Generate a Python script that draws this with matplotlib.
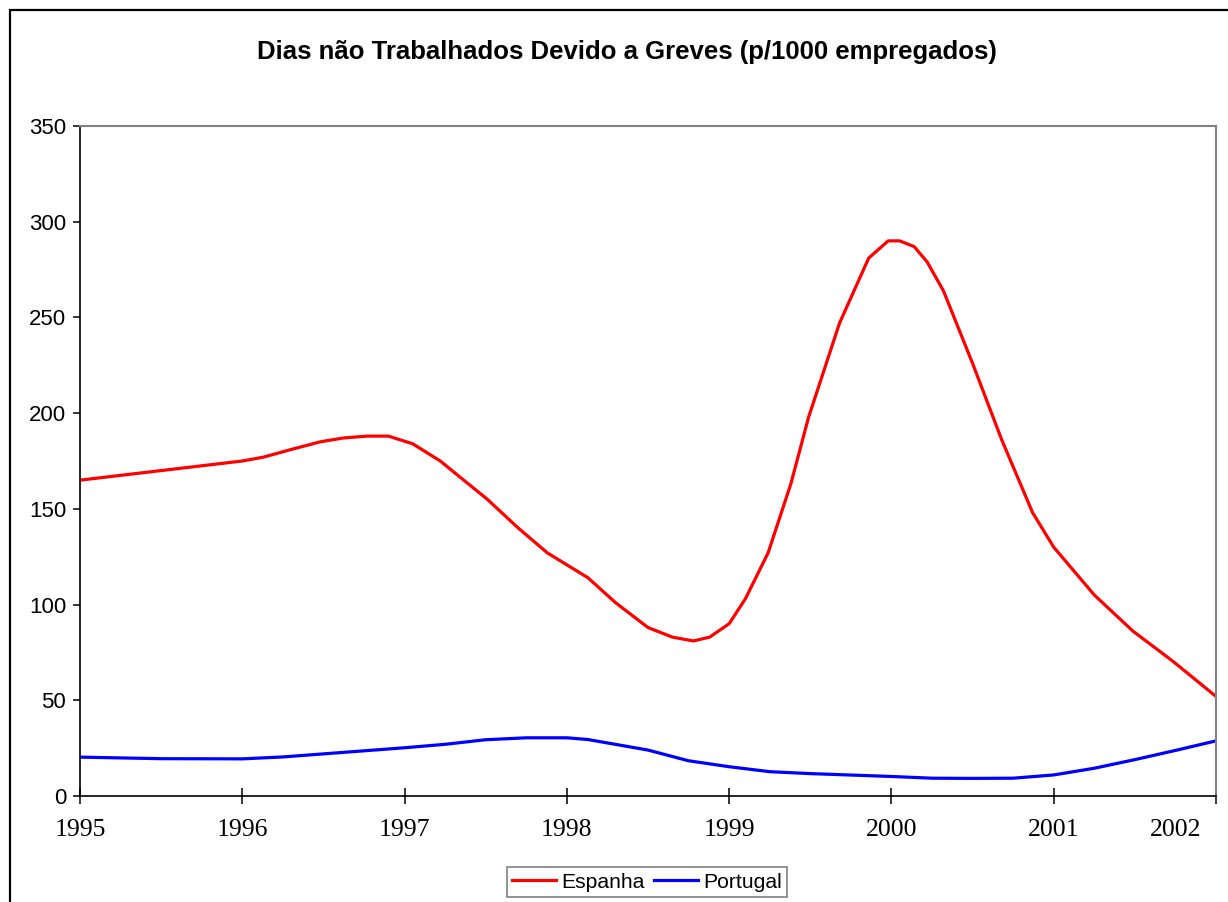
import matplotlib
matplotlib.use("Agg")
import matplotlib.pyplot as plt
import matplotlib.patches as mpatches
import matplotlib.transforms as mtransforms
import numpy as np

# values (fractional years)
spain_x = [1995.0, 1996.0, 1996.13, 1996.3, 1996.48, 1996.62, 1996.77, 1996.9,
           1997.05, 1997.22, 1997.35, 1997.51, 1997.7, 1997.88, 1998.13, 1998.3,
           1998.5, 1998.65, 1998.78, 1998.88, 1999.0, 1999.1, 1999.24, 1999.38,
           1999.49, 1999.68, 1999.86, 1999.98, 2000.05, 2000.14, 2000.22, 2000.32,
           2000.5, 2000.68, 2000.76, 2000.87, 2001.0, 2001.25, 2001.49, 2001.6,
           2001.74, 2002.0]
spain_y = [165, 175, 177, 181, 185, 187, 188, 188,
           184, 175, 166, 155, 140, 127, 114, 101,
           88, 83, 81, 83, 90, 103, 127, 163,
           198, 247, 281, 290, 290, 287, 279, 264,
           226, 186, 170, 148, 130, 105, 86, 79,
           70, 52]

portugal_x = [1995.0, 1995.5, 1996.0, 1996.25, 1996.5, 1997.0, 1997.25, 1997.5,
              1997.75, 1998.0, 1998.13, 1998.5, 1998.75, 1999.0, 1999.25, 1999.5,
              2000.0, 2000.25, 2000.5, 2000.75, 2001.0, 2001.25, 2001.5, 2001.75,
              2002.0]
portugal_y = [20.3, 19.5, 19.4, 20.4, 22.0, 25.2, 27.0, 29.4,
              30.4, 30.4, 29.5, 24.0, 18.4, 15.3, 12.7, 11.7,
              10.2, 9.3, 9.2, 9.3, 11.0, 14.5, 19.0, 23.8,
              28.8]

years = [1995, 1996, 1997, 1998, 1999, 2000, 2001, 2002]
y_ticks = [0, 50, 100, 150, 200, 250, 300, 350]

W, H = 1228, 902
fig = plt.figure(figsize=(W / 100, H / 100), dpi=100)

# outer chart frame (right/bottom edges run off the image)
fig.patches.append(mpatches.Rectangle((10 / W, -0.05), 1.1, 1 - 10 / H + 0.05,
                                      transform=fig.transFigure, fill=False,
                                      edgecolor="black", linewidth=1.6))

ax = fig.add_axes([80 / W, 1 - 796 / H, (1216 - 80) / W, (796 - 126) / H])

ax.plot(spain_x, spain_y, color="#FF0000", linewidth=2.3, label="Espanha")
ax.plot(portugal_x, portugal_y, color="#0000FF", linewidth=2.3, label="Portugal")

ax.set_xlim(1995, 2002)
ax.set_ylim(0, 350)
ax.set_xticks(years)
ax.set_xticklabels([str(y) for y in years], family="Liberation Serif", fontsize=18.5)
ax.set_yticks(y_ticks)
ax.set_yticklabels([str(v) for v in y_ticks], family="Liberation Sans", fontsize=16)

ax.tick_params(axis="x", direction="inout", length=11, width=1.1, pad=11)
ax.tick_params(axis="y", direction="out", length=5, width=1.1, pad=5)

for side in ["left", "bottom"]:
    ax.spines[side].set_color("black")
    ax.spines[side].set_linewidth(1.2)
for side in ["top", "right"]:
    ax.spines[side].set_color("#808080")
    ax.spines[side].set_linewidth(1.5)

# Excel squeezes the last label inside the frame
last = ax.get_xticklabels()[-1]
last.set_transform(last.get_transform() +
                   mtransforms.ScaledTranslation(-0.40, 0, fig.dpi_scale_trans))

fig.text(627 / W, 1 - 52 / H,
         "Dias não Trabalhados Devido a Greves (p/1000 empregados)",
         ha="center", va="center", family="Liberation Sans",
         fontweight="bold", fontsize=18.5)

leg = fig.legend(loc="center", bbox_to_anchor=(647 / W, 1 - 882 / H), ncol=2,
                 prop={"family": "Liberation Sans", "size": 15.2},
                 frameon=True, fancybox=False, shadow=False,
                 handlelength=2.1, handletextpad=0.25, columnspacing=0.4,
                 borderpad=0.25, borderaxespad=0)
leg.get_frame().set_edgecolor("#808080")
leg.get_frame().set_linewidth(1.2)
leg.get_frame().set_alpha(1)

fig.savefig("out.png", dpi=100)
